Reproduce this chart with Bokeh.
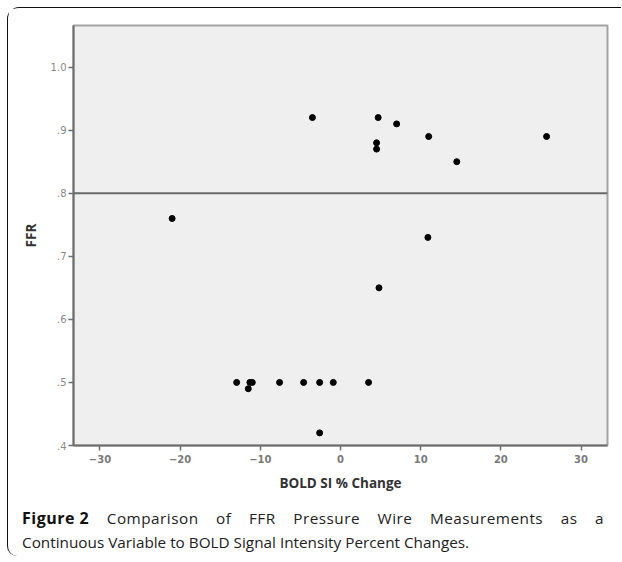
from bokeh.plotting import figure
from bokeh.models import Range1d, FixedTicker, Span, Div
from bokeh.layouts import column
from bokeh.embed import file_html
from bokeh.resources import INLINE

# ---- data ----
bold_si_change = [-3.5, 4.7, 7.0, 4.5, 4.5, 11.0, 14.5, 25.7,
                  -21.0, 10.9, 4.8,
                  -12.95, -11.3, -11.0, -11.5, -7.6, -4.6, -2.6, -0.9, 3.5, -2.6]
ffr = [0.92, 0.92, 0.91, 0.88, 0.87, 0.89, 0.85, 0.89,
       0.76, 0.73, 0.65,
       0.50, 0.50, 0.50, 0.49, 0.50, 0.50, 0.50, 0.50, 0.50, 0.42]
ffr_cutoff = 0.8
x_ticks = [-30, -20, -10, 0, 10, 20, 30]
y_ticks = [0.4, 0.5, 0.6, 0.7, 0.8, 0.9, 1.0]
y_tick_labels = [".4", ".5", ".6", ".7", ".8", ".9", "1.0"]

caption_bold = "Figure 2"
caption_line1 = "Comparison of FFR Pressure Wire Measurements as a"
caption_line2 = "Continuous Variable to BOLD Signal Intensity Percent Changes."

W, H = 612, 492

p = figure(width=W, height=H, output_backend="svg", toolbar_location=None,
           x_range=Range1d(-33.3, 33.3), y_range=Range1d(0.4, 1.066),
           min_border_left=65, min_border_top=17, min_border_right=13,
           min_border_bottom=55)

p.background_fill_color = "#efefef"
p.border_fill_color = "white"
p.outline_line_color = "#a3a3a3"
p.outline_line_width = 2
p.xgrid.visible = False
p.ygrid.visible = False

for ax in (p.xaxis[0], p.yaxis[0]):
    ax.axis_line_color = "#6e6e6e"
    ax.axis_line_width = 2
    ax.major_tick_line_color = "#6e6e6e"
    ax.major_tick_line_width = 1.5
    ax.major_tick_in = 0
    ax.major_tick_out = 5
    ax.minor_tick_line_color = None
    ax.major_label_text_color = "#7a7a7a"
    ax.major_label_text_font = "DejaVu Sans"
    ax.major_label_text_font_size = "10px"
    ax.axis_label_text_font = "Open Sans"
    ax.axis_label_text_font_style = "bold"
    ax.axis_label_text_font_size = "13.5px"
    ax.axis_label_text_color = "#333333"

p.xaxis.ticker = FixedTicker(ticks=x_ticks)
p.xaxis.major_label_text_font_style = "bold"
p.xaxis.major_label_standoff = 4
p.xaxis.axis_label = "BOLD SI % Change"
p.xaxis.axis_label_standoff = 8

p.yaxis.ticker = FixedTicker(ticks=y_ticks)
p.yaxis.major_label_overrides = {t: l for t, l in zip(y_ticks, y_tick_labels)}
p.yaxis.major_label_text_color = "#8a8a8a"
p.yaxis.major_label_standoff = 2
p.yaxis.axis_label = "FFR"
p.yaxis.axis_label_standoff = 8

p.add_layout(Span(location=ffr_cutoff, dimension="width",
                  line_color="#6a6a6a", line_width=2))

p.scatter(bold_si_change, ffr, size=6, color="black")

caption_html = (
    '<div style="padding:6px 0 0 14px; font-family:\'Open Sans\'; '
    'font-size:15.3px; line-height:24px; color:#222;">'
    '<div style="width:582px; white-space:nowrap; display:flex; '
    'justify-content:space-between; letter-spacing:0.5px;">'
    + f'<b style="color:#111; font-size:16px;">{caption_bold}</b>'
    + ''.join(f'<span>{w}</span>' for w in caption_line1.split())
    + '</div>'
    f'<div style="text-align:left; white-space:nowrap;">{caption_line2}</div>'
    '</div>'
)
caption = Div(text=caption_html, width=W, height=56, margin=0)

layout = column(p, caption, margin=(7, 0, 0, 7), width=W + 1,
                styles={"border-left": "1px solid #111",
                        "border-top": "1px solid #111",
                        "border-top-left-radius": "12px",
                        "border-bottom-left-radius": "10px",
                        "min-width": "614px"})

open("out.html", "w").write(file_html(layout, INLINE))
